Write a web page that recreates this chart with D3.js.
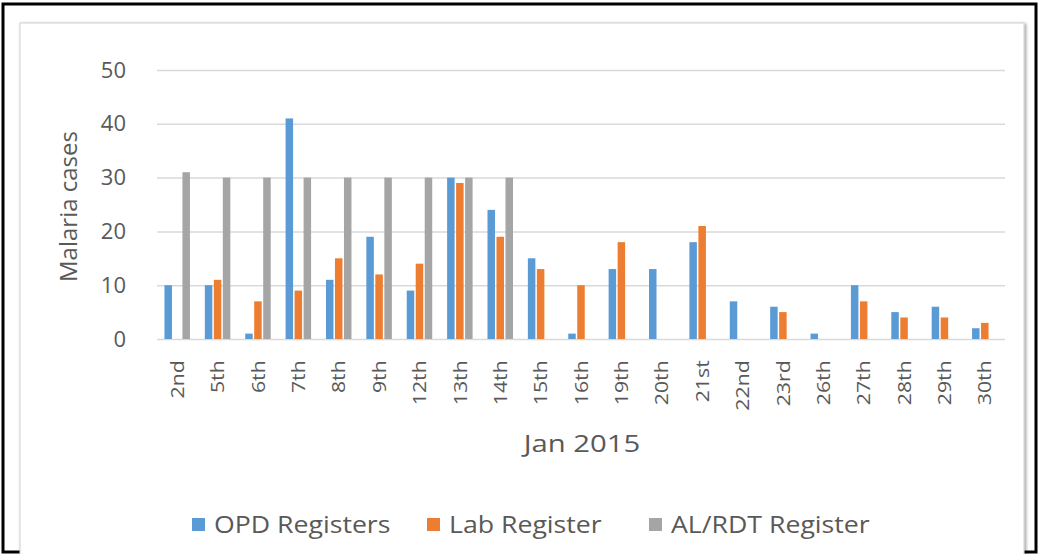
<!DOCTYPE html>
<html>
<head>
<meta charset="utf-8">
<script src="https://cdnjs.cloudflare.com/ajax/libs/d3/7.8.5/d3.min.js"></script>
<style>
  body { margin: 0; background: #fff; }
  svg { display: block; }
</style>
</head>
<body>
<div id="chart"></div>
<script>
// chart data
var days = ["2nd", "5th", "6th", "7th", "8th", "9th", "12th", "13th", "14th", "15th", "16th",
            "19th", "20th", "21st", "22nd", "23rd", "26th", "27th", "28th", "29th", "30th"];
var opd = [10, 10, 1, 41, 11, 19, 9, 30, 24, 15, 1, 13, 13, 18, 7, 6, 1, 10, 5, 6, 2];
var lab = [0, 11, 7, 9, 15, 12, 14, 29, 19, 13, 10, 18, 0, 21, 0, 5, 0, 7, 4, 4, 3];
var alrdt = [31, 30, 30, 30, 30, 30, 30, 30, 30, 0, 0, 0, 0, 0, 0, 0, 0, 0, 0, 0, 0];
var seriesNames = ["OPD Registers", "Lab Register", "AL/RDT Register"];
var yTicks = [0, 10, 20, 30, 40, 50];

var width = 1040, height = 554;
var color = d3.scaleOrdinal().domain(seriesNames).range(["#5B9BD5", "#ED7D31", "#A5A5A5"]);
var textColor = "#595959";
var font = "'Open Sans', 'Noto Sans', sans-serif";

var svg = d3.select("#chart")
    .append("svg")
    .attr("width", width)
    .attr("height", height);

// outer black frame
svg.append("rect")
    .attr("x", 3).attr("y", 4)
    .attr("width", 1033).attr("height", 548)
    .attr("fill", "#fff")
    .attr("stroke", "#000")
    .attr("stroke-width", 3);

// inner chart frame with a soft shadow
var defs = svg.append("defs");
var filt = defs.append("filter").attr("id", "shadow")
    .attr("x", "-5%").attr("y", "-5%").attr("width", "110%").attr("height", "110%");
filt.append("feDropShadow").attr("dx", 1.5).attr("dy", 1).attr("stdDeviation", 1.5)
    .attr("flood-color", "#000").attr("flood-opacity", 0.4);

svg.append("rect")
    .attr("x", 20).attr("y", 23)
    .attr("width", 1004).attr("height", 560)
    .attr("fill", "#fff")
    .attr("stroke", "#d0d0d0")
    .attr("stroke-width", 1)
    .attr("filter", "url(#shadow)");

var margin = {left: 157, right: 1005, top: 70, bottom: 339};

var x = d3.scaleBand()
    .domain(days)
    .range([margin.left, margin.right]);

var xInner = d3.scaleBand()
    .domain(seriesNames)
    .range([-13.5, 13.5]);

var y = d3.scaleLinear()
    .domain([0, 50])
    .range([margin.bottom, margin.top]);

// gridlines + y labels
var yAxis = d3.axisLeft(y)
    .tickValues(yTicks)
    .tickSize(-(margin.right - margin.left))
    .tickPadding(31);

var gy = svg.append("g")
    .attr("transform", "translate(" + margin.left + ",0)")
    .call(yAxis);
gy.select(".domain").remove();
gy.selectAll(".tick line").attr("stroke", "#d9d9d9").attr("stroke-width", 1.5);
gy.selectAll(".tick text")
    .attr("fill", textColor)
    .style("font-family", font)
    .style("font-size", "22px");

// x labels (rotated)
var xAxis = d3.axisBottom(x).tickSize(0).tickPadding(0);
var gx = svg.append("g")
    .attr("transform", "translate(0," + margin.bottom + ")")
    .call(xAxis);
gx.select(".domain").remove();
gx.selectAll(".tick text")
    .attr("fill", textColor)
    .style("font-family", font)
    .style("font-size", "19px")
    .attr("text-anchor", "end")
    .attr("transform", "rotate(-90) scale(1.12,1)")
    .attr("x", -19)
    .attr("y", 0)
    .attr("dy", "0.35em");

// bars
var rows = days.map(function(d, i) {
    return {day: d, values: [opd[i], lab[i], alrdt[i]]};
});

var groups = svg.selectAll(".day")
    .data(rows)
    .enter()
    .append("g")
    .attr("class", "day")
    .attr("transform", function(d) {
        return "translate(" + (x(d.day) + x.bandwidth() / 2) + ",0)";
    });

groups.selectAll("rect")
    .data(function(d) {
        return d.values.map(function(v, k) { return {name: seriesNames[k], value: v}; });
    })
    .enter()
    .filter(function(d) { return d.value > 0; })
    .append("rect")
    .attr("x", function(d) { return xInner(d.name) + 0.75; })
    .attr("width", xInner.bandwidth() - 1.5)
    .attr("y", function(d) { return y(d.value); })
    .attr("height", function(d) { return y(0) - y(d.value); })
    .attr("fill", function(d) { return color(d.name); });

// axis titles
svg.append("text")
    .attr("transform", "translate(77," + ((margin.top + margin.bottom) / 2 + 2) + ") rotate(-90)")
    .attr("text-anchor", "middle")
    .attr("fill", textColor)
    .style("font-family", font)
    .style("font-size", "24px")
    .text("Malaria cases");

svg.append("text")
    .attr("transform", "translate(" + ((margin.left + margin.right) / 2 + 1) + ",452) scale(1.22,1)")
    .attr("text-anchor", "middle")
    .attr("fill", textColor)
    .style("font-family", font)
    .style("font-size", "24px")
    .text("Jan 2015");

// legend
var legendX = [192, 427, 649];
var legend = svg.selectAll(".legend")
    .data(seriesNames)
    .enter()
    .append("g")
    .attr("class", "legend")
    .attr("transform", function(d, i) { return "translate(" + legendX[i] + ",525)"; });

legend.append("rect")
    .attr("x", 0).attr("y", -7)
    .attr("width", 13).attr("height", 13)
    .attr("fill", function(d) { return color(d); });

legend.append("text")
    .attr("transform", "translate(22,0) scale(1.16,1)")
    .attr("dy", "0.35em")
    .attr("fill", textColor)
    .style("font-family", font)
    .style("font-size", "23px")
    .text(function(d) { return d; });
</script>
</body>
</html>
